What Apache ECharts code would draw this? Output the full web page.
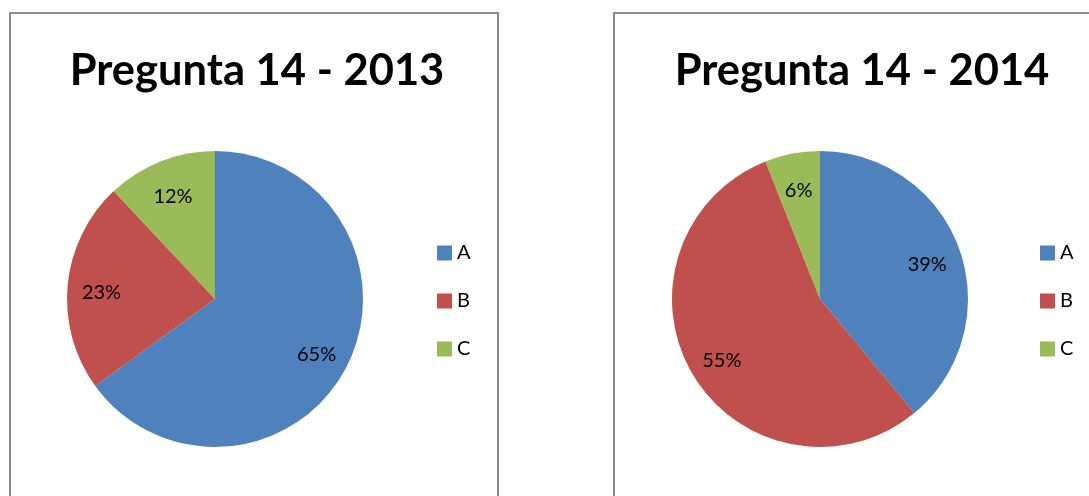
<!DOCTYPE html>
<html>
<head>
<meta charset="utf-8">
<script src="https://cdn.jsdelivr.net/npm/echarts@6/dist/echarts.min.js"></script>
<style>
html,body{margin:0;padding:0;background:#fff;}
#chart{width:1089px;height:496px;}
</style>
</head>
<body>
<div id="chart"></div>
<script>
var categories = ["A", "B", "C"];
var values2013 = [65, 23, 12];
var values2014 = [39, 55, 6];
var titles = ["Pregunta 14 - 2013", "Pregunta 14 - 2014"];

var colors = ["#4F81BD", "#C0504D", "#9BBB59"];
var font = "Lato, 'Open Sans', sans-serif";

function toData(vals) {
  return categories.map(function (c, i) {
    return { name: c, value: vals[i] };
  });
}

// solid pie, no labels
function pieSeries(vals, center) {
  return {
    type: "pie",
    center: center,
    radius: [0, 148],
    startAngle: 90,
    clockwise: true,
    silent: true,
    label: { show: false },
    labelLine: { show: false },
    itemStyle: { borderWidth: 0 },
    data: toData(vals)
  };
}

// transparent ring, only there to put the % labels at ~3/4 radius
function labelSeries(vals, center) {
  return {
    type: "pie",
    center: center,
    radius: [74, 148],
    startAngle: 90,
    clockwise: true,
    silent: true,
    legendHoverLink: false,
    itemStyle: { color: "rgba(0,0,0,0)", borderWidth: 0 },
    label: {
      show: true,
      position: "inside",
      formatter: "{d}%",
      color: "#000",
      fontSize: 20,
      fontFamily: font,
      offset: [0, 4]
    },
    labelLine: { show: false },
    data: toData(vals)
  };
}

var chart = echarts.init(document.getElementById("chart"));

function legendAt(left) {
  return {
    data: categories, orient: "vertical", left: left, top: 243, padding: 0,
    itemWidth: 15, itemHeight: 15, itemGap: 28, icon: "rect",
    textStyle: { fontSize: 20, fontFamily: font, color: "#000" }
  };
}

function titleAt(text, x) {
  return {
    text: text, left: x, top: 66, textAlign: "center", textVerticalAlign: "middle",
    textStyle: { fontSize: 43.5, fontWeight: "bold", fontFamily: font, color: "#000" }
  };
}

var option = {
  color: colors,
  animation: false,
  title: [titleAt(titles[0], 252), titleAt(titles[1], 857)],
  legend: [legendAt(437), legendAt(1040)],
  graphic: [
    { type: "rect", shape: { x: 10, y: 13, width: 488, height: 520 }, style: { fill: "none", stroke: "#8c8c8c", lineWidth: 2 }, z: -1 },
    { type: "rect", shape: { x: 614, y: 13, width: 520, height: 520 }, style: { fill: "none", stroke: "#8c8c8c", lineWidth: 2 }, z: -1 }
  ],
  series: [
    pieSeries(values2013, [215, 299]),
    pieSeries(values2014, [820, 299]),
    labelSeries(values2013, [215, 299]),
    labelSeries(values2014, [820, 299])
  ]
};

chart.setOption(option);
</script>
</body>
</html>
